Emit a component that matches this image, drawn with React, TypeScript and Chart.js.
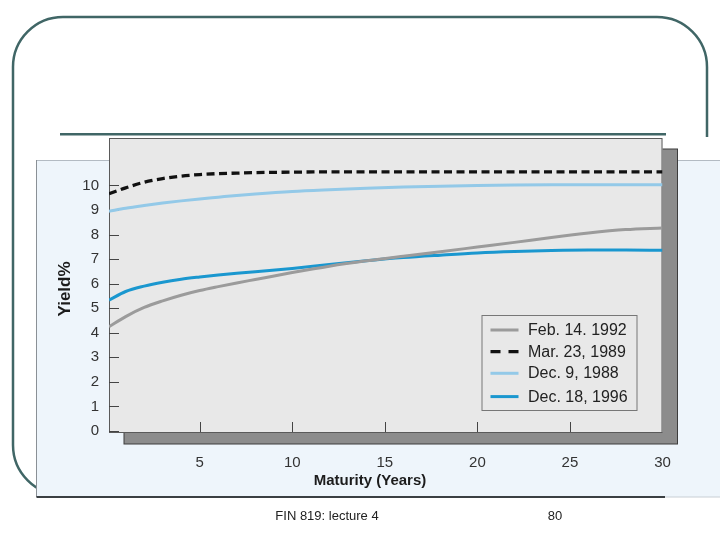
import React, { useEffect, useRef } from "react";
import { Chart, registerables } from "chart.js";

Chart.register(...registerables);

// ---- data ----
const maturities = [0.1, 1, 2, 3, 4, 5, 6, 7, 8, 10, 12, 14, 16, 18, 20, 22, 24, 26, 28, 30];
const feb1992 = [4.25, 4.66, 5.03, 5.3, 5.53, 5.72, 5.88, 6.03, 6.17, 6.45, 6.71, 6.93, 7.12, 7.3, 7.49, 7.68, 7.88, 8.06, 8.2, 8.27];
const mar1989 = [9.66, 9.9, 10.13, 10.28, 10.38, 10.44, 10.48, 10.5, 10.52, 10.54, 10.55, 10.55, 10.55, 10.55, 10.55, 10.55, 10.55, 10.55, 10.55, 10.55];
const dec1988 = [8.95, 9.07, 9.18, 9.28, 9.37, 9.45, 9.52, 9.59, 9.65, 9.75, 9.82, 9.88, 9.93, 9.97, 10.0, 10.02, 10.03, 10.03, 10.03, 10.03];
const dec1996 = [5.33, 5.68, 5.9, 6.06, 6.18, 6.27, 6.35, 6.42, 6.48, 6.62, 6.78, 6.93, 7.06, 7.16, 7.25, 7.31, 7.35, 7.37, 7.37, 7.36];
const seriesLabels = ["Feb. 14. 1992", "Mar. 23, 1989", "Dec. 9, 1988", "Dec. 18, 1996"];
const yTickValues = [0, 1, 2, 3, 4, 5, 6, 7, 8, 9, 10];
const xTickValues = [5, 10, 15, 20, 25, 30];
const xAxisTitle = "Maturity (Years)";
const yAxisTitle = "Yield%";
const footerLeft = "FIN 819: lecture 4";
const footerRight = "80";

const FONT = "'Liberation Sans', Arial, Helvetica, sans-serif";

const decor = {
  id: "decor",
  beforeDraw(chart: any) {
    const ctx = chart.ctx as CanvasRenderingContext2D;
    const a = chart.chartArea;
    ctx.save();
    // slide frame
    ctx.strokeStyle = "#406666";
    ctx.lineWidth = 2.5;
    ctx.beginPath();
    ctx.moveTo(707, 137);
    ctx.arcTo(707, 17, 13, 17, 50);
    ctx.arcTo(13, 17, 13, 495, 50);
    ctx.arcTo(13, 495, 707, 495, 50);
    ctx.stroke();
    // title rule
    ctx.lineWidth = 2.6;
    ctx.beginPath();
    ctx.moveTo(60, 134.3);
    ctx.lineTo(666, 134.3);
    ctx.stroke();
    // blue panel
    ctx.fillStyle = "#eef5fb";
    ctx.fillRect(36.5, 160, 720 - 36.5, 337);
    ctx.lineWidth = 1;
    ctx.strokeStyle = "#b3bbc3";
    ctx.beginPath();
    ctx.moveTo(36.5, 160.5);
    ctx.lineTo(720, 160.5);
    ctx.stroke();
    ctx.strokeStyle = "#8a9096";
    ctx.beginPath();
    ctx.moveTo(36.5, 160);
    ctx.lineTo(36.5, 497);
    ctx.stroke();
    ctx.strokeStyle = "#3a3f42";
    ctx.lineWidth = 2;
    ctx.beginPath();
    ctx.moveTo(36.5, 497);
    ctx.lineTo(665, 497);
    ctx.stroke();
    ctx.strokeStyle = "#c8ced4";
    ctx.lineWidth = 1;
    ctx.beginPath();
    ctx.moveTo(665, 497);
    ctx.lineTo(720, 497);
    ctx.stroke();
    // plot shadow
    const w = a.right - a.left;
    const h = a.bottom - a.top;
    ctx.fillStyle = "#8c8c8c";
    ctx.fillRect(a.left + 15, a.top + 11, w, h + 1);
    ctx.strokeStyle = "#3c3c3c";
    ctx.lineWidth = 1;
    ctx.strokeRect(a.left + 15, a.top + 11, w, h + 1);
    // plot box
    ctx.fillStyle = "#e8e8e8";
    ctx.fillRect(a.left, a.top, w, h);
    ctx.strokeStyle = "#5a5a5a";
    ctx.strokeRect(a.left + 0.5, a.top + 0.5, w - 1, h);
    ctx.restore();
  },
  beforeDatasetsDraw(chart: any) {
    const ctx = chart.ctx as CanvasRenderingContext2D;
    const a = chart.chartArea;
    const xs = chart.scales.x;
    const ys = chart.scales.y;
    ctx.save();
    ctx.strokeStyle = "#444";
    ctx.lineWidth = 1;
    ctx.beginPath();
    ys.ticks.forEach((t: any) => {
      const y = Math.round(ys.getPixelForValue(t.value)) + 0.5;
      ctx.moveTo(a.left, y);
      ctx.lineTo(a.left + 10, y);
    });
    xs.ticks.forEach((t: any) => {
      const x = Math.round(xs.getPixelForValue(t.value)) + 0.5;
      if (x < a.right - 2) {
        ctx.moveTo(x, a.bottom);
        ctx.lineTo(x, a.bottom - 10);
      }
    });
    ctx.stroke();
    ctx.restore();
  },
  afterDatasetsDraw(chart: any) {
    const ctx = chart.ctx as CanvasRenderingContext2D;
    const a = chart.chartArea;
    const bx = a.right - 181;
    const by = a.bottom - 117;
    const bw = 155;
    const bh = 95;
    ctx.save();
    ctx.fillStyle = "#e8e8e8";
    ctx.fillRect(bx, by, bw, bh);
    ctx.strokeStyle = "#777";
    ctx.lineWidth = 1;
    ctx.strokeRect(bx + 0.5, by + 0.5, bw, bh);
    const rows = [15, 36.6, 58.3, 81.6];
    ctx.font = `16px ${FONT}`;
    ctx.textBaseline = "middle";
    ctx.textAlign = "left";
    chart.data.datasets.forEach((ds: any, i: number) => {
      const y = by + rows[i];
      ctx.strokeStyle = ds.borderColor;
      ctx.lineWidth = ds.borderWidth;
      ctx.setLineDash(ds.borderDash && ds.borderDash.length ? [10, 8] : []);
      ctx.beginPath();
      ctx.moveTo(bx + 9, y);
      ctx.lineTo(bx + 37, y);
      ctx.stroke();
      ctx.setLineDash([]);
      ctx.fillStyle = "#222";
      ctx.fillText(ds.label, bx + 46.5, y + 0.5);
    });
    ctx.restore();
  },
  afterDraw(chart: any) {
    const ctx = chart.ctx as CanvasRenderingContext2D;
    ctx.save();
    ctx.fillStyle = "#1c1c1c";
    ctx.textAlign = "center";
    ctx.textBaseline = "middle";
    ctx.font = `bold 15px ${FONT}`;
    ctx.fillText(xAxisTitle, 370, 481);
    ctx.save();
    ctx.translate(65, 289);
    ctx.rotate(-Math.PI / 2);
    ctx.font = `bold 17px ${FONT}`;
    ctx.fillText(yAxisTitle, 0, 0);
    ctx.restore();
    ctx.fillStyle = "#222";
    ctx.font = `13px ${FONT}`;
    ctx.fillText(footerLeft, 327, 516);
    ctx.fillText(footerRight, 555, 516);
    ctx.restore();
  },
};

export default function App() {
  const ref = useRef<HTMLCanvasElement | null>(null);
  useEffect(() => {
    if (!ref.current) return;
    const mk = (vals: number[]) => maturities.map((m, i) => ({ x: m, y: vals[i] }));
    const tickFont = { family: FONT, size: 15 };
    const chart = new Chart(ref.current, {
      type: "line",
      data: {
        datasets: [
          { label: seriesLabels[0], data: mk(feb1992), borderColor: "#9b9b9b", borderWidth: 3, borderDash: [] },
          { label: seriesLabels[1], data: mk(mar1989), borderColor: "#111111", borderWidth: 3.3, borderDash: [8, 4.5] },
          { label: seriesLabels[2], data: mk(dec1988), borderColor: "#93c9e8", borderWidth: 3, borderDash: [] },
          { label: seriesLabels[3], data: mk(dec1996), borderColor: "#1a97cf", borderWidth: 3, borderDash: [] },
        ],
      },
      options: {
        responsive: false,
        animation: false,
        layout: { padding: { left: 0, top: 138, right: 57.5, bottom: 0 } },
        plugins: { legend: { display: false }, tooltip: { enabled: false } },
        elements: {
          point: { radius: 0 },
          line: { cubicInterpolationMode: "monotone", borderCapStyle: "butt" },
        },
        scales: {
          x: {
            type: "linear",
            min: 0.1,
            max: 30,
            border: { display: false },
            grid: { display: false, drawTicks: false, tickLength: 0 },
            ticks: { padding: 22, font: tickFont, color: "#333", autoSkip: false, maxRotation: 0, callback: (v: any) => String(v) },
            afterBuildTicks: (s: any) => {
              s.ticks = xTickValues.map((v) => ({ value: v }));
            },
            afterFit: (s: any) => {
              s.height = 108;
            },
          },
          y: {
            type: "linear",
            min: -0.04,
            max: 11.93,
            border: { display: false },
            grid: { display: false, drawTicks: false, tickLength: 0 },
            ticks: { padding: 10, font: tickFont, color: "#333", autoSkip: false, callback: (v: any) => String(v) },
            afterBuildTicks: (s: any) => {
              s.ticks = yTickValues.map((v) => ({ value: v }));
            },
            afterFit: (s: any) => {
              s.width = 109;
            },
          },
        },
      },
      plugins: [decor],
    } as any);
    return () => chart.destroy();
  }, []);
  return (
    <canvas
      ref={ref}
      width={720}
      height={540}
      style={{ position: "absolute", left: 0, top: 0, width: 720, height: 540 }}
    />
  );
}
